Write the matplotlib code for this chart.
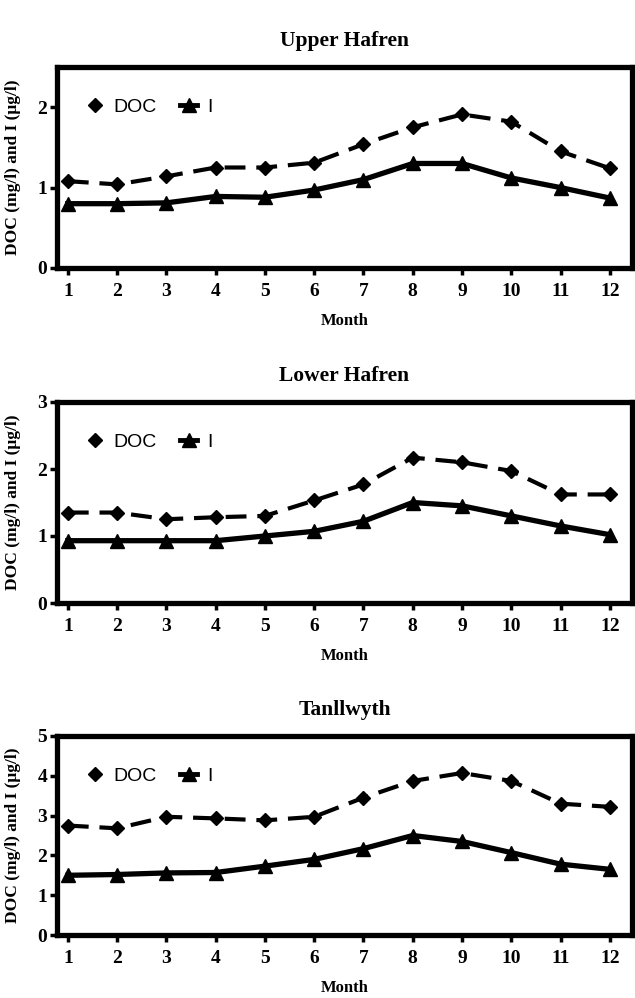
import matplotlib
matplotlib.use("Agg")
import matplotlib.pyplot as plt
from matplotlib.lines import Line2D

# Monthly means for three catchments
months = list(range(1, 13))
sites = ["Upper Hafren", "Lower Hafren", "Tanllwyth"]

doc_upper = [1.08, 1.04, 1.14, 1.25, 1.25, 1.31, 1.54, 1.75, 1.91, 1.82, 1.45, 1.24]
i_upper = [0.80, 0.80, 0.81, 0.89, 0.88, 0.97, 1.10, 1.30, 1.30, 1.12, 1.00, 0.87]

doc_lower = [1.35, 1.35, 1.25, 1.28, 1.30, 1.53, 1.77, 2.17, 2.10, 1.97, 1.62, 1.62]
i_lower = [0.93, 0.93, 0.93, 0.93, 1.00, 1.07, 1.22, 1.50, 1.45, 1.30, 1.15, 1.02]

doc_tan = [2.75, 2.68, 2.97, 2.93, 2.88, 2.97, 3.45, 3.87, 4.07, 3.87, 3.30, 3.22]
i_tan = [1.50, 1.52, 1.56, 1.57, 1.73, 1.90, 2.17, 2.50, 2.35, 2.07, 1.78, 1.65]

doc_all = [doc_upper, doc_lower, doc_tan]
i_all = [i_upper, i_lower, i_tan]
y_max = [2.5, 3, 5]
y_ticks = [[0, 1, 2], [0, 1, 2, 3], [0, 1, 2, 3, 4, 5]]

serif = ["Liberation Serif", "DejaVu Serif"]
narrow = ["Liberation Sans Narrow", "Liberation Sans", "DejaVu Sans"]

fig = plt.figure(figsize=(6.35, 9.98), dpi=100)

# axes boxes in pixel rows (top, bottom)
boxes = [(67, 268), (402, 603), (736, 935)]
W, H = 635.0, 998.0
left, right = 57 / W, 632 / W

for k in range(3):
    top, bot = boxes[k]
    ax = fig.add_axes([left, 1 - bot / H, right - left, (bot - top) / H])
    ax.plot(months, doc_all[k], color="black", lw=3.0, ls=(0, (5, 2.6)),
            marker="D", ms=7.5, mfc="black", mec="black")
    ax.plot(months, i_all[k], color="black", lw=3.8, ls="-",
            marker="^", ms=10, mfc="black", mec="black")
    ax.set_xlim(0.78, 12.45)
    ax.set_ylim(0, y_max[k])
    ax.set_xticks(months)
    ax.set_yticks(y_ticks[k])
    for s in ["left", "bottom", "top", "right"]:
        ax.spines[s].set_linewidth(3.8)
    ax.tick_params(axis="both", direction="out", length=5, width=2.5, pad=2)
    ax.tick_params(axis="x", pad=6)
    for lab in ax.get_xticklabels() + ax.get_yticklabels():
        lab.set_fontfamily(serif)
        lab.set_fontweight("bold")
        lab.set_fontsize(14)
    ax.set_xlabel("Month", fontfamily=serif, fontweight="bold", fontsize=12, labelpad=9)
    ax.set_ylabel("DOC (mg/l) and I (\u03bcg/l)", fontfamily=serif,
                  fontweight="bold", fontsize=12.5, labelpad=2)
    ax.yaxis.set_label_coords(-0.062, 0.5)
    ax.set_title(sites[k], fontfamily=serif, fontweight="bold", fontsize=15.5, pad=15)

    handles = [
        Line2D([], [], color="black", lw=0, marker="D", ms=7.5),
        Line2D([], [], color="black", lw=3.5, marker="^", ms=10),
    ]
    ax.legend(handles, ["DOC", "I"], loc="upper left", ncol=2, frameon=False,
              handlelength=0.9, handletextpad=0.5, columnspacing=1.2,
              prop={"family": narrow, "size": 14}, bbox_to_anchor=(0.02, 0.93))

fig.savefig("out.png", dpi=100)
